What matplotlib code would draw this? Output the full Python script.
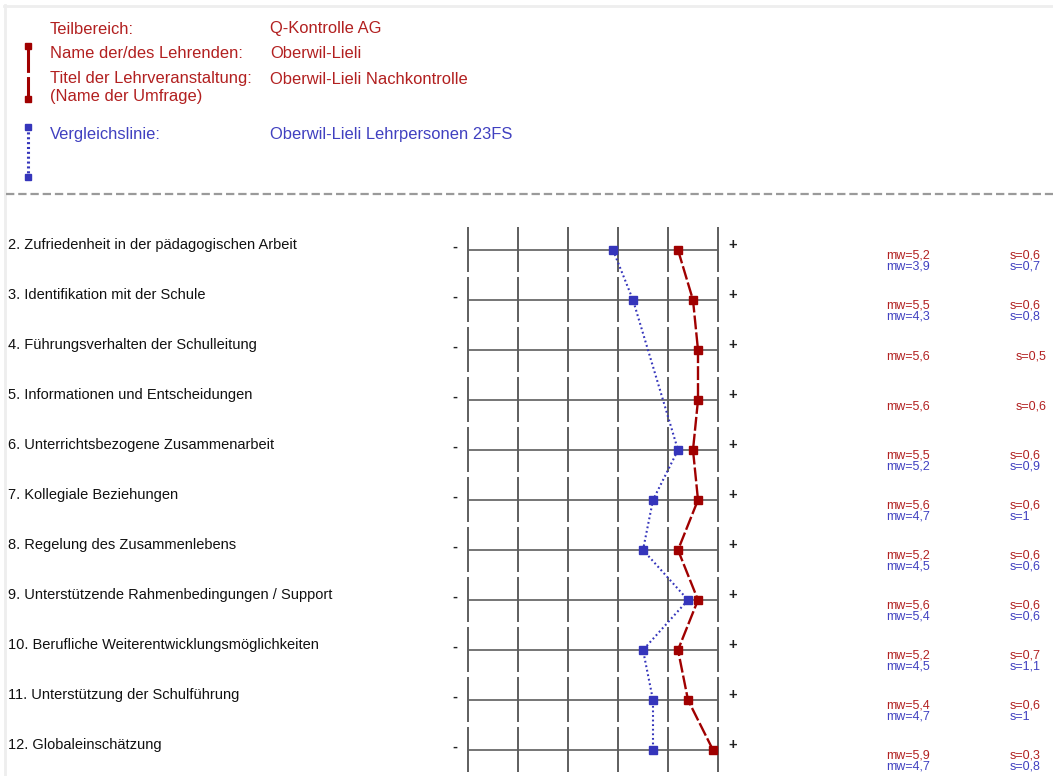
import matplotlib
matplotlib.use('Agg')
import matplotlib.pyplot as plt
from matplotlib.transforms import blended_transform_factory
from matplotlib.lines import Line2D

plt.rcParams['font.family'] = ['Liberation Sans', 'DejaVu Sans']
plt.rcParams['lines.scale_dashes'] = False

# ---------------- data ----------------
items = [
    "2. Zufriedenheit in der pädagogischen Arbeit",
    "3. Identifikation mit der Schule",
    "4. Führungsverhalten der Schulleitung",
    "5. Informationen und Entscheidungen",
    "6. Unterrichtsbezogene Zusammenarbeit",
    "7. Kollegiale Beziehungen",
    "8. Regelung des Zusammenlebens",
    "9. Unterstützende Rahmenbedingungen / Support",
    "10. Berufliche Weiterentwicklungsmöglichkeiten",
    "11. Unterstützung der Schulführung",
    "12. Globaleinschätzung",
]
mw_main = [5.2, 5.5, 5.6, 5.6, 5.5, 5.6, 5.2, 5.6, 5.2, 5.4, 5.9]
s_main = ["0,6", "0,6", "0,5", "0,6", "0,6", "0,6", "0,6", "0,6", "0,7", "0,6", "0,3"]
mw_comp = [3.9, 4.3, None, None, 5.2, 4.7, 4.5, 5.4, 4.5, 4.7, 4.7]
s_comp = ["0,7", "0,8", None, None, "0,9", "1", "0,6", "0,6", "1,1", "1", "0,8"]
scale_ticks = [1, 2, 3, 4, 5, 6]

header_labels = ["Teilbereich:", "Name der/des Lehrenden:", "Titel der Lehrveranstaltung:",
                 "(Name der Umfrage)"]
header_values = ["Q-Kontrolle AG", "Oberwil-Lieli", "Oberwil-Lieli Nachkontrolle", ""]
compare_label = "Vergleichslinie:"
compare_value = "Oberwil-Lieli Lehrpersonen 23FS"

# ---------------- styling ----------------
W, H = 1053, 776
RED_LINE = '#A00000'
RED_TXT = '#B22020'
BLUE_LINE = '#3535BB'
BLUE_TXT = '#4040C0'
GRID = '#5e5e5e'

fig = plt.figure(figsize=(W / 100, H / 100), dpi=100)
ax = fig.add_axes([0, 0, 1, 1])
ax.set_axis_off()

# pixel geometry of scale: value 1 at x=468px, 50 px per unit; rows at y=250+50*i px
x0_px, unit_px = 468, 50
row0_px, row_px = 250, 50
ax.set_xlim(1 - x0_px / unit_px, 1 + (W - x0_px) / unit_px)
ax.set_ylim((H - row0_px) / row_px, -row0_px / row_px)

n = len(items)
rows = list(range(n))
xt = blended_transform_factory(ax.transAxes, ax.transData)

# grid
for r in rows:
    ax.hlines(r, scale_ticks[0], scale_ticks[-1], color=GRID, lw=1.2, zorder=1)
    ax.vlines(scale_ticks, r - 0.46, r + 0.44, color=GRID, lw=1.4, zorder=1)

# comparison line (blue dotted)
cx = [v for v in mw_comp if v is not None]
cy = [r for r, v in zip(rows, mw_comp) if v is not None]
ax.plot(cx, cy, color=BLUE_LINE, lw=1.5, dashes=(1.3, 2.0), marker='s', ms=5.5,
        mec=BLUE_LINE, mfc=BLUE_LINE, zorder=3)
# main line (red dashed)
ax.plot(mw_main, rows, color=RED_LINE, lw=1.7, dashes=(10, 2.2), marker='s', ms=5.5,
        mec=RED_LINE, mfc=RED_LINE, zorder=4)

FS = 9.0
# texts per row
for r in rows:
    ax.text(8 / W, r - 0.1, items[r], transform=xt, fontsize=10.5, va='center',
            ha='left', color='#111111')
    ax.text(455 / W, r - 0.06, "-", transform=xt, fontsize=10.5, va='center',
            ha='center', color='#222222', fontweight='bold')
    ax.text(733 / W, r - 0.1, "+", transform=xt, fontsize=10.5, va='center',
            ha='center', color='#222222', fontweight='bold')
    if mw_comp[r] is not None:
        ax.text(886 / W, r + 0.11, "mw=" + f"{mw_main[r]:.1f}".replace('.', ','),
                transform=xt, fontsize=FS, va='center', ha='left', color=RED_TXT)
        ax.text(1010 / W, r + 0.11, "s=" + s_main[r], transform=xt, fontsize=FS,
                va='center', ha='left', color=RED_TXT)
        ax.text(886 / W, r + 0.33, "mw=" + f"{mw_comp[r]:.1f}".replace('.', ','),
                transform=xt, fontsize=FS, va='center', ha='left', color=BLUE_TXT)
        ax.text(1010 / W, r + 0.33, "s=" + s_comp[r], transform=xt, fontsize=FS,
                va='center', ha='left', color=BLUE_TXT)
    else:
        ax.text(886 / W, r + 0.13, "mw=" + f"{mw_main[r]:.1f}".replace('.', ','),
                transform=xt, fontsize=FS, va='center', ha='left', color=RED_TXT)
        ax.text(1016 / W, r + 0.13, "s=" + s_main[r], transform=xt, fontsize=FS,
                va='center', ha='left', color=RED_TXT)

# ---------------- header ----------------
def fx(p):
    return p / W

def fy(p):
    return 1 - p / H

# light frame
fig.add_artist(Line2D([fx(4), fx(W)], [fy(5.5), fy(5.5)], color='#eeeeee', lw=2))
fig.add_artist(Line2D([fx(4.5), fx(4.5)], [fy(5), fy(H)], color='#eeeeee', lw=2))
# dashed separator
fig.add_artist(Line2D([fx(6), fx(W)], [fy(193.5), fy(193.5)], color='#9a9a9a', lw=1.6,
                      dashes=(6, 2.8)))

HFS = 11.9
head_y = [29, 54, 79, 96]
for lab, val, y in zip(header_labels, header_values, head_y):
    fig.text(fx(50), fy(y), lab, fontsize=HFS, color=RED_TXT, va='center', ha='left')
    if val:
        fig.text(fx(270), fy(y), val, fontsize=HFS, color=RED_TXT, va='center', ha='left')
fig.text(fx(50), fy(134), compare_label, fontsize=HFS, color=BLUE_TXT, va='center', ha='left')
fig.text(fx(270), fy(134), compare_value, fontsize=HFS, color=BLUE_TXT, va='center', ha='left')

# legend glyphs
fig.add_artist(Line2D([fx(27.5), fx(27.5)], [fy(46), fy(99)], color=RED_LINE, lw=2.2,
                      dashes=(19, 3), marker='s', ms=5, mfc=RED_LINE, mec=RED_LINE))
fig.add_artist(Line2D([fx(27.5), fx(27.5)], [fy(127), fy(177)], color=BLUE_LINE, lw=2.2,
                      dashes=(1.5, 2.0), marker='s', ms=5, mfc=BLUE_LINE, mec=BLUE_LINE))

fig.savefig('out.png', dpi=100)
